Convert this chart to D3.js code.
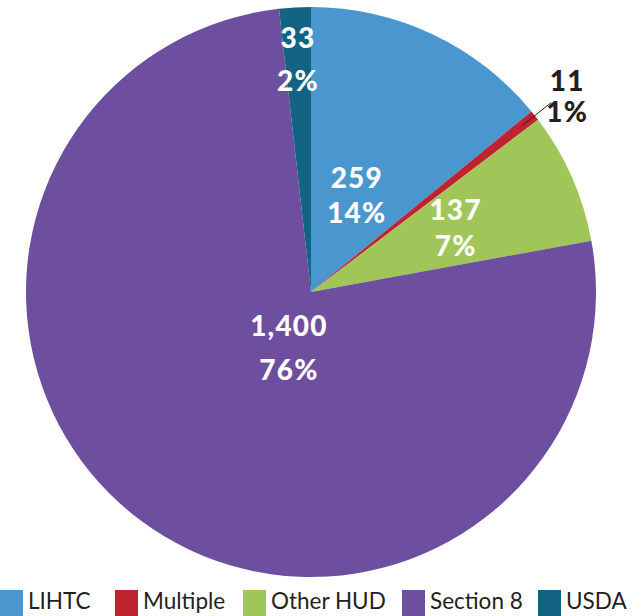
<!DOCTYPE html>
<html>
<head>
<meta charset="utf-8">
<script src="https://cdn.jsdelivr.net/npm/d3@7/dist/d3.min.js"></script>
<style>
  html, body { margin: 0; padding: 0; background: #fff; }
  svg { display: block; }
</style>
</head>
<body>
<svg id="chart" width="642" height="616"></svg>
<script>
// ---- data ----
const categories = ["LIHTC", "Multiple", "Other HUD", "Section 8", "USDA"];
const values = [259, 11, 137, 1400, 33];
const valueLabels = ["259", "11", "137", "1,400", "33"];
const percentLabels = ["14%", "1%", "7%", "76%", "2%"];
const colors = ["#4A96CE", "#BE2430", "#A0C65A", "#6E4E9E", "#136384"];

// ---- layout / style ----
const W = 642, H = 616;
const cx = 311, cy = 292, R = 285;
// label placement: radius from centre, optional angle (deg, clockwise from top), line gap, colour
const labelLayout = [
  { r: 107, gap: 35, fill: "#fff" },
  { r: 322, angle: 52.7, gap: 31, fill: "#231F20", leader: [269, 306] },
  { r: 158, gap: 36, fill: "#fff" },
  { r: 60, angle: 201.6, gap: 43.5, fill: "#fff" },
  { r: 233, gap: 43, fill: "#fff" }
];

const svg = d3.select("#chart");
const g = svg.append("g").attr("transform", `translate(${cx},${cy})`);

const data = categories.map((c, i) => ({ cat: c, value: values[i], i }));
const pie = d3.pie().value(d => d.value).sort(null);
const arcs = pie(data);
const arc = d3.arc().innerRadius(0).outerRadius(R);

g.selectAll("path.slice")
  .data(arcs)
  .join("path")
  .attr("class", "slice")
  .attr("d", arc)
  .attr("fill", d => colors[d.data.i]);

const font = "Lato, 'Open Sans', sans-serif";

arcs.forEach(a => {
  const L = labelLayout[a.data.i];
  const mid = (a.startAngle + a.endAngle) / 2;
  const ang = L.angle !== undefined ? L.angle * Math.PI / 180 : mid;
  const px = L.r * Math.sin(ang);
  const py = -L.r * Math.cos(ang);
  if (L.leader) {
    g.append("line")
      .attr("x1", L.leader[0] * Math.sin(mid))
      .attr("y1", -L.leader[0] * Math.cos(mid))
      .attr("x2", L.leader[1] * Math.sin(mid))
      .attr("y2", -L.leader[1] * Math.cos(mid))
      .attr("stroke", "#231F20")
      .attr("stroke-width", 1);
  }
  const t = g.append("text")
    .attr("text-anchor", "middle")
    .attr("fill", L.fill)
    .style("font-family", font)
    .style("font-weight", "900")
    .style("font-size", "28px")
    .style("letter-spacing", "1.2px");
  t.append("tspan").attr("x", px).attr("y", py - L.gap / 2 + 10).text(valueLabels[a.data.i]);
  t.append("tspan").attr("x", px).attr("y", py + L.gap / 2 + 10).text(percentLabels[a.data.i]);
});

// ---- legend ----
const legendX = [0, 115, 243, 402, 538];
const legend = svg.append("g").attr("class", "legend");
categories.forEach((c, i) => {
  const lg = legend.append("g").attr("transform", `translate(${legendX[i]},590)`);
  lg.append("rect").attr("width", 23).attr("height", 26).attr("fill", colors[i]);
  lg.append("text")
    .attr("x", 28)
    .attr("y", 19)
    .attr("fill", "#231F20")
    .style("font-family", font)
    .style("font-size", "22.5px")
    .text(c);
});
</script>
</body>
</html>
